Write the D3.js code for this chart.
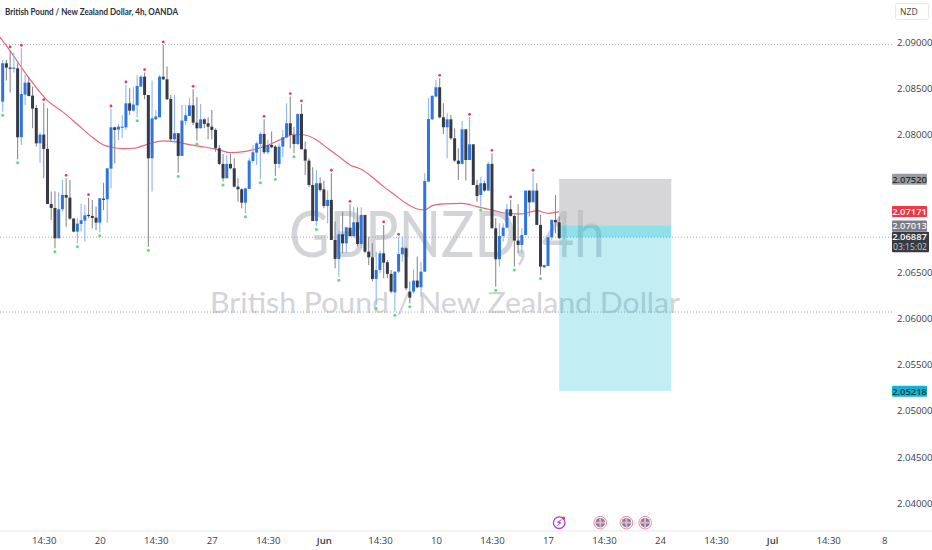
<!DOCTYPE html>
<html><head><meta charset="utf-8">
<script src="https://cdn.jsdelivr.net/npm/d3@7/dist/d3.min.js"></script>
<style>html,body{margin:0;padding:0;background:#fff;overflow:hidden}svg{display:block}text{font-family:"Open Sans","Noto Sans",sans-serif}</style>
</head><body><svg id="c" width="932" height="550"></svg>
<script>
const opens=[2.08377,2.08796,2.08749,2.08738,2.08741,2.07988,2.08454,2.08585,2.08443,2.08308,2.07922,2.08017,2.07861,2.07260,2.07216,2.06885,2.07202,2.07358,2.07329,2.07100,2.06958,2.07042,2.07078,2.07140,2.07129,2.07111,2.07056,2.07318,2.07311,2.07646,2.08097,2.08072,2.08097,2.08097,2.08359,2.08279,2.08337,2.08541,2.08650,2.08450,2.07759,2.08184,2.08206,2.08650,2.08621,2.08407,2.07966,2.08032,2.07784,2.08166,2.08221,2.08337,2.08148,2.08086,2.08184,2.08141,2.08104,2.08068,2.07868,2.07697,2.07540,2.07697,2.07649,2.07449,2.07420,2.07274,2.07424,2.07729,2.07820,2.07915,2.08024,2.07824,2.07904,2.07886,2.07697,2.07886,2.07988,2.08141,2.08013,2.07915,2.08243,2.07857,2.07733,2.07467,2.07074,2.07486,2.07420,2.07238,2.07304,2.06867,2.06659,2.06929,2.06830,2.07001,2.06910,2.07060,2.06823,2.07140,2.06739,2.06678,2.06441,2.06539,2.06721,2.06623,2.06496,2.06295,2.06521,2.06710,2.06776,2.06303,2.06303,2.06423,2.06350,2.06521,2.07504,2.08184,2.08432,2.08534,2.08206,2.08097,2.08184,2.07977,2.07733,2.07697,2.08075,2.07740,2.07911,2.07467,2.07358,2.07486,2.07406,2.07697,2.06994,2.06656,2.06910,2.07001,2.07202,2.07129,2.06860,2.06812,2.06921,2.07406,2.07278,2.07406,2.07031,2.06568,2.06583,2.06896,2.07085,2.07060];
const closes=[2.08796,2.08749,2.08738,2.08749,2.07988,2.08461,2.08585,2.08439,2.08301,2.07922,2.08017,2.07861,2.07260,2.07216,2.06885,2.07202,2.07358,2.07329,2.07100,2.06958,2.07045,2.07082,2.07136,2.07133,2.07107,2.07056,2.07322,2.07304,2.07649,2.08097,2.08068,2.08104,2.08104,2.08359,2.08279,2.08345,2.08548,2.08650,2.08450,2.07759,2.08195,2.08214,2.08650,2.08621,2.08403,2.07966,2.08032,2.07784,2.08170,2.08228,2.08337,2.08148,2.08086,2.08184,2.08134,2.08104,2.08068,2.07868,2.07697,2.07540,2.07697,2.07649,2.07449,2.07420,2.07274,2.07431,2.07733,2.07824,2.07922,2.08024,2.07824,2.07904,2.07879,2.07697,2.07886,2.07988,2.08141,2.08013,2.07915,2.08243,2.07857,2.07733,2.07467,2.07074,2.07486,2.07413,2.07238,2.07304,2.06867,2.06659,2.06929,2.06830,2.07005,2.06910,2.07060,2.06823,2.07140,2.06739,2.06678,2.06441,2.06539,2.06721,2.06619,2.06496,2.06303,2.06521,2.06714,2.06783,2.06339,2.06237,2.06423,2.06350,2.06521,2.07511,2.08188,2.08439,2.08534,2.08206,2.08097,2.08184,2.07977,2.07733,2.07697,2.08075,2.07740,2.07911,2.07467,2.07347,2.07486,2.07406,2.07697,2.06994,2.06656,2.06910,2.07001,2.07202,2.07129,2.06860,2.06812,2.06921,2.07406,2.07278,2.07406,2.07031,2.06576,2.06594,2.06896,2.07085,2.07060,2.06887];
const highs=[2.08832,2.08832,2.08942,2.08912,2.08796,2.08960,2.08669,2.08650,2.08541,2.08341,2.08039,2.08366,2.08305,2.07395,2.07398,2.07387,2.07522,2.07540,2.07522,2.07103,2.07103,2.07260,2.07249,2.07329,2.07304,2.07231,2.07322,2.07493,2.07649,2.08297,2.08104,2.08134,2.08232,2.08559,2.08523,2.08534,2.08669,2.08669,2.08694,2.08450,2.08607,2.08286,2.08669,2.08996,2.08760,2.08450,2.08450,2.08032,2.08341,2.08341,2.08414,2.08512,2.08425,2.08352,2.08195,2.08206,2.08286,2.08086,2.07904,2.07806,2.07795,2.07806,2.07759,2.07540,2.07431,2.07431,2.07759,2.07904,2.07941,2.08050,2.08184,2.07959,2.08050,2.07904,2.07922,2.08068,2.08359,2.08432,2.08104,2.08243,2.08352,2.07941,2.07759,2.07660,2.07631,2.07551,2.07515,2.07406,2.07595,2.07067,2.06969,2.07176,2.07005,2.07256,2.07224,2.07224,2.07224,2.07140,2.06903,2.06830,2.06739,2.06750,2.07031,2.06648,2.06539,2.06521,2.06896,2.06903,2.06794,2.06412,2.06546,2.06685,2.06630,2.07595,2.08414,2.08450,2.08614,2.08632,2.08359,2.08250,2.08232,2.08086,2.07868,2.08166,2.08075,2.08206,2.07911,2.07522,2.07558,2.07515,2.07722,2.07813,2.07103,2.07049,2.07049,2.07260,2.07304,2.07140,2.07256,2.06994,2.07406,2.07406,2.07595,2.07486,2.07140,2.06594,2.06903,2.07093,2.07358,2.07122];
const lows=[2.08268,2.08607,2.08476,2.08694,2.07748,2.07904,2.08341,2.08432,2.08086,2.07886,2.07711,2.07540,2.07260,2.07085,2.06776,2.06885,2.07176,2.07012,2.07085,2.06951,2.06830,2.06958,2.06849,2.07103,2.06994,2.06976,2.06951,2.07194,2.07056,2.07431,2.07704,2.07959,2.07977,2.08068,2.08232,2.08268,2.08206,2.08541,2.08407,2.06794,2.07395,2.08177,2.08206,2.08614,2.08396,2.07941,2.07922,2.07602,2.07784,2.08123,2.08221,2.08123,2.07952,2.08086,2.08086,2.07966,2.07966,2.07831,2.07686,2.07504,2.07540,2.07638,2.07442,2.07285,2.07213,2.07158,2.07424,2.07704,2.07686,2.07529,2.07806,2.07806,2.07868,2.07569,2.07649,2.07770,2.07977,2.07868,2.07813,2.07904,2.07857,2.07577,2.07449,2.07074,2.07020,2.07395,2.07213,2.07049,2.06867,2.06557,2.06466,2.06721,2.06721,2.06903,2.06903,2.06794,2.06776,2.06721,2.06594,2.06412,2.06157,2.06503,2.06448,2.06448,2.06284,2.06084,2.06503,2.06630,2.06321,2.06175,2.06284,2.06339,2.06248,2.06521,2.07504,2.08177,2.08425,2.08195,2.08024,2.07759,2.07959,2.07722,2.07522,2.07697,2.07515,2.07740,2.07467,2.07285,2.07231,2.07395,2.07406,2.06994,2.06357,2.06576,2.06849,2.06994,2.07122,2.06576,2.06721,2.06721,2.06921,2.07122,2.07278,2.07031,2.06485,2.06557,2.06576,2.06867,2.06940,2.06878];
const redMarkers=[2,5,11,17,23,29,33,38,43,51,70,77,80,88,93,102,106,117,125,131,136,142];
const greenMarkers=[0,4,14,20,26,36,39,47,52,59,65,69,73,78,84,90,100,105,109,128,132,137,144];
const maBars=[-1,0,2,5,8,12,16,20,24,27,29,32,35,39,43,46,50,54,58,61,65,70,75,78,81,84,87,90,93,96,99,102,105,108,111,113,115,118,123,127,131,135,139,143,146,149];
const maValues=[2.09094,2.09044,2.08931,2.08752,2.08585,2.08388,2.08268,2.08130,2.07988,2.07904,2.07882,2.07864,2.07868,2.07915,2.07948,2.07941,2.07908,2.07882,2.07850,2.07820,2.07835,2.07886,2.07973,2.08021,2.08013,2.07959,2.07868,2.07777,2.07686,2.07638,2.07551,2.07449,2.07358,2.07267,2.07205,2.07194,2.07242,2.07260,2.07267,2.07231,2.07194,2.07158,2.07151,2.07187,2.07158,2.07176];
const priceTicks=[2.04,2.045,2.05,2.055,2.06,2.065,2.08,2.085,2.09];
const timeTickBars=[11,26,41,56,71,86,101,116,131,146,161,176,191,206,221,236];
const timeTickLabels=["14:30","20","14:30","27","14:30","Jun","14:30","10","14:30","17","14:30","24","14:30","Jul","14:30","8"];
const boldLabels=["Jun","Jul"];
const levelLines=[2.08978,2.06887,2.06074];
const boxStartBar=149,boxEndBar=179;
const stopPrice=2.0752,entryPrice=2.07013,targetPrice=2.05218,lastPrice=2.06887,maLast=2.07171;
const countdown="03:15:02";
const flagBars=[160,167,172];
const boltBar=149;
const titleText="British Pound / New Zealand Dollar, 4h, OANDA";
const watermark1="GBPNZD, 4h",watermark2="British Pound / New Zealand Dollar";

const svg=d3.select("#c");
const x=d3.scaleLinear().domain([0,149]).range([2.67,559.2]);
const y=d3.scaleLinear().domain([2.04,2.09]).range([503,42.6]);     // price axis, tool and level lines
const yBars=d3.scaleLinear().domain([2.04,2.09]).range([502.5,44.6]); // candle and average readings
const plotRight=892,axisY=531;
const fm=d3.format(".5f");

// watermark
svg.append("text").attr("x",289).attr("y",257).attr("font-size",63)
 .attr("textLength",316).attr("lengthAdjust","spacingAndGlyphs")
 .attr("fill","#d3d4d7").style("font-family","Lato").text(watermark1);
svg.append("text").attr("x",210).attr("y",313).attr("font-size",29)
 .attr("textLength",470).attr("lengthAdjust","spacingAndGlyphs")
 .attr("fill","#d3d4d7").style("font-family","Lato").text(watermark2);

// level lines
svg.append("g").selectAll("line").data(levelLines).join("line")
 .attr("x1",0).attr("x2",plotRight).attr("y1",d=>y(d)).attr("y2",d=>y(d))
 .attr("stroke","#a8abb3").attr("stroke-width",1).attr("stroke-dasharray","1 2");

// position tool
const bx=x(boxStartBar),bw=x(boxEndBar)-x(boxStartBar);
const box=svg.append("g");
box.append("rect").attr("x",bx).attr("width",bw).attr("y",y(stopPrice)).attr("height",y(entryPrice)-y(stopPrice)).attr("fill","#b4b5b9").attr("fill-opacity",.55);
box.append("rect").attr("x",bx).attr("width",bw).attr("y",y(entryPrice)).attr("height",y(targetPrice)-y(entryPrice)).attr("fill","#22bfd3").attr("fill-opacity",.28);
box.append("rect").attr("x",bx).attr("width",bw).attr("y",y(entryPrice)).attr("height",y(lastPrice)-y(entryPrice)).attr("fill","#22bfd3").attr("fill-opacity",.3);

// moving average
svg.append("path").attr("d",d3.line().x((d,i)=>x(maBars[i])).y(d=>yBars(d)).curve(d3.curveMonotoneX)(maValues))
 .attr("fill","none").attr("stroke","#ea6478").attr("stroke-width",1.2);

// candles
const idx=d3.range(opens.length);
const up=i=>closes[i]>=opens[i];
svg.append("g").selectAll("line").data(idx).join("line")
 .attr("x1",i=>x(i)).attr("x2",i=>x(i)).attr("y1",i=>yBars(highs[i])).attr("y2",i=>yBars(lows[i]))
 .attr("stroke",i=>up(i)?"#8fb6f0":"#8b8d93").attr("stroke-width",1.1);
svg.append("g").selectAll("rect").data(idx).join("rect")
 .attr("x",i=>x(i)-1.5).attr("width",3)
 .attr("y",i=>yBars(Math.max(opens[i],closes[i])))
 .attr("height",i=>Math.max(1.2,Math.abs(yBars(opens[i])-yBars(closes[i]))))
 .attr("fill",i=>up(i)?"#2f75e2":"#363a45");

// swing markers
svg.append("g").selectAll("circle").data(redMarkers).join("circle")
 .attr("cx",i=>x(i)).attr("cy",i=>yBars(highs[i])-3).attr("r",1.4).attr("fill","#e5395a");
svg.append("g").selectAll("circle").data(greenMarkers).join("circle")
 .attr("cx",i=>x(i)).attr("cy",i=>yBars(lows[i])+3.5).attr("r",1.5).attr("fill","#55e06e");

// title
svg.append("text").attr("x",5).attr("y",14.5).attr("font-size",9.6).attr("font-weight",700)
 .attr("textLength",173).attr("lengthAdjust","spacingAndGlyphs")
 .attr("fill","#2a2e39").style("font-family","Lato").text(titleText);

// NZD badge
svg.append("rect").attr("x",895.5).attr("y",3.5).attr("width",33).attr("height",16).attr("rx",2).attr("fill","#fff").attr("stroke","#e6e8ee");
svg.append("text").attr("x",900).attr("y",15).attr("font-size",8.6).attr("fill","#444").text("NZD");

// axes
const yAxis=svg.append("g").attr("transform",`translate(897,0)`)
 .call(d3.axisRight(y).tickValues(priceTicks).tickSize(0).tickPadding(0).tickFormat(fm));
yAxis.select(".domain").remove();
yAxis.selectAll("text").attr("font-size",9.6).attr("fill","#3a3d47").attr("font-family",'"Open Sans"');

svg.append("line").attr("x1",0).attr("x2",932).attr("y1",axisY).attr("y2",axisY).attr("stroke","#e6e7ec");
const xAxis=svg.append("g").attr("transform",`translate(0,${axisY})`)
 .call(d3.axisBottom(x).tickValues(timeTickBars).tickSize(0).tickPadding(6).tickFormat((d,i)=>timeTickLabels[i]));
xAxis.select(".domain").remove();
xAxis.selectAll("text").attr("font-size",9.6).attr("fill","#3a3d47").attr("font-family",'"Open Sans"')
 .attr("font-weight",(d,i)=>boldLabels.includes(timeTickLabels[i])?600:400);

// price badges
function badge(p,bg,fg,h){
 const cy=y(p)+.4;
 svg.append("rect").attr("x",892).attr("y",cy-h/2).attr("width",35).attr("height",h).attr("rx",1).attr("fill",bg);
 svg.append("text").attr("x",909.5).attr("y",cy+3.3).attr("text-anchor","middle").attr("font-size",9.4).attr("font-weight",600).attr("fill",fg).text(fm(p));
}
badge(stopPrice,"#9b9ca3","#2a2c33",11);
badge(maLast,"#f23645","#fff",11);
badge(targetPrice,"#12b5cf","#0d3a44",11);
badge(entryPrice,"#7b7c85","#f2f2f4",11);
const py=y(lastPrice);
svg.append("rect").attr("x",892).attr("y",py-5.5).attr("width",37).attr("height",20.5).attr("rx",1).attr("fill","#363a45");
svg.append("text").attr("x",909.5).attr("y",py+3.3).attr("text-anchor","middle").attr("font-size",9.4).attr("font-weight",600).attr("fill","#fff").text(fm(lastPrice));
svg.append("text").attr("x",910).attr("y",py+12.6).attr("text-anchor","middle").attr("font-size",8.6).attr("fill","#c9cbd1").text(countdown);

// event icons
const iconY=522.7;
const bolt=svg.append("g").attr("transform",`translate(${x(boltBar)},${iconY})`);
bolt.append("circle").attr("r",5.8).attr("fill","#fff").attr("stroke","#a93fd6").attr("stroke-width",1.3);
bolt.append("text").attr("text-anchor","middle").attr("y",3.2).attr("font-size",9).attr("font-weight",700).attr("fill","#a93fd6").text("⚡︎");
bolt.append("circle").attr("cx",4.3).attr("cy",-4.6).attr("r",1.7).attr("fill","#ef3b4e");
const flags=svg.append("g").selectAll("g").data(flagBars).join("g").attr("transform",d=>`translate(${x(d)},${iconY})`);
flags.append("circle").attr("r",6.3).attr("fill","#fff").attr("stroke","#ec8a96").attr("stroke-width",1);
flags.append("circle").attr("r",4.8).attr("fill","#7a80ab");
flags.append("rect").attr("x",-4.8).attr("y",-.9).attr("width",9.6).attr("height",1.8).attr("fill","#eeb4bd");
flags.append("rect").attr("x",-.9).attr("y",-4.8).attr("width",1.8).attr("height",9.6).attr("fill","#eeb4bd");
</script></body></html>
